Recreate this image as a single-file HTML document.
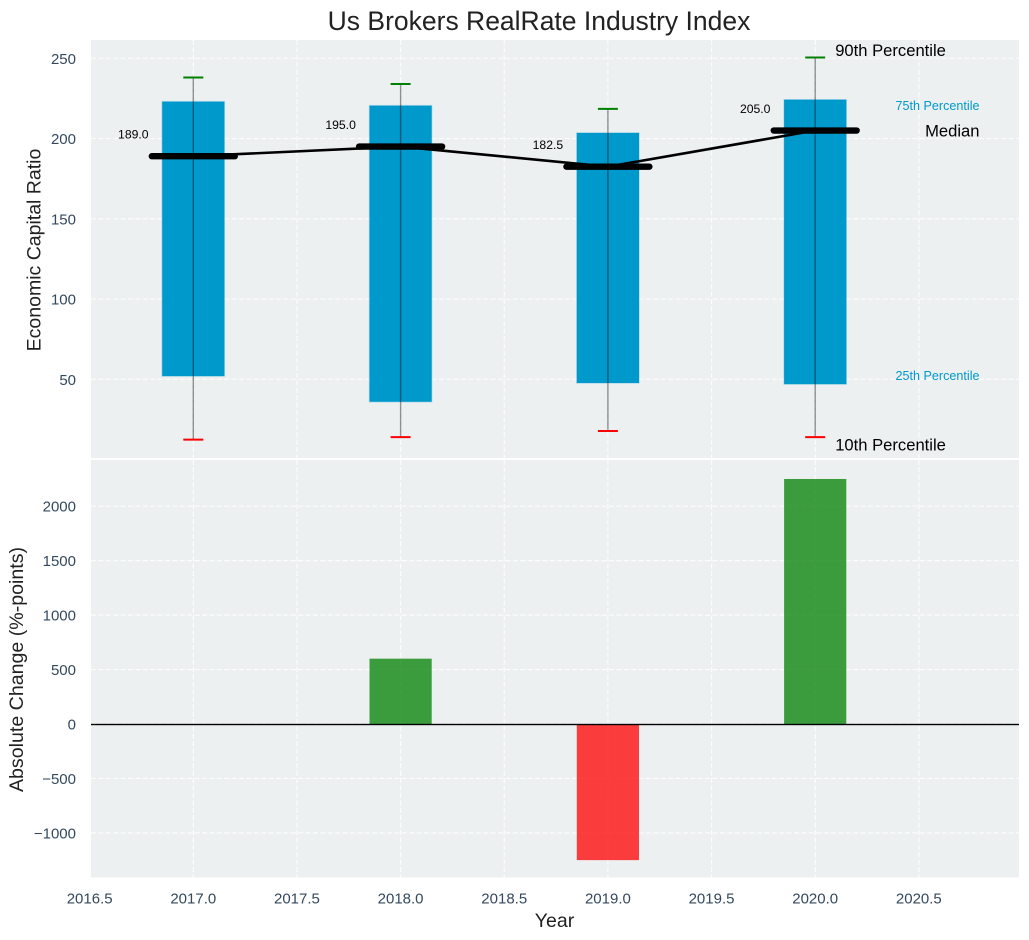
<!DOCTYPE html>
<html>
<head>
<meta charset="utf-8">
<title>Us Brokers RealRate Industry Index</title>
<style>
html,body{margin:0;padding:0;background:#fff;width:1029px;height:940px;overflow:hidden}
svg{display:block;font-family:"Liberation Sans",Arial,sans-serif}
</style>
</head>
<body>
<svg id="chart" width="1029" height="940" viewBox="0 0 1029 940" xmlns="http://www.w3.org/2000/svg"></svg>
<script>
const years = [2017, 2018, 2019, 2020];
const p10 = [12.4, 14, 17.8, 14];
const p25 = [52, 36, 47.7, 47];
const median = [189.0, 195.0, 182.5, 205.0];
const p75 = [223, 220.5, 203.5, 224.2];
const p90 = [238, 234, 218.5, 250.5];
const absoluteChange = [0, 600, -1250, 2250];
const xTicks = [2016.5, 2017.0, 2017.5, 2018.0, 2018.5, 2019.0, 2019.5, 2020.0, 2020.5];
const topYTicks = [50, 100, 150, 200, 250];
const bottomYTicks = [-1000, -500, 0, 500, 1000, 1500, 2000];

const NS = 'http://www.w3.org/2000/svg';
const svg = document.getElementById('chart');
const plotLeft = 91, plotRight = 1019;
const topPanelTop = 40, topPanelBottom = 458;
const bottomPanelTop = 460, bottomPanelBottom = 877.5;

function xScale(v) { return 193.3 + (v - 2017) * 207.3; }
function yTop(v) { return 379.3 - (v - 50) * 1.605; }
function yBottom(v) { return 724 - v * 0.1089; }

function add(tag, attrs, name, text) {
  const el = document.createElementNS(NS, tag);
  for (const k in attrs) el.setAttribute(k, attrs[k]);
  
  
  if (text !== undefined) el.textContent = text;
  svg.appendChild(el);
  return el;
}
function fmtTick(v) { return String(v).replace('-', '\u2212'); }

add('rect', {x: plotLeft, y: topPanelTop, width: plotRight - plotLeft, height: topPanelBottom - topPanelTop, fill: '#ecf0f1'}, 'top-panel-background');
add('rect', {x: plotLeft, y: bottomPanelTop, width: plotRight - plotLeft, height: bottomPanelBottom - bottomPanelTop, fill: '#ecf0f1'}, 'bottom-panel-background');

const gridStyle = {stroke: '#ffffff', 'stroke-width': 1.2, 'stroke-dasharray': '5 2.4', opacity: 0.85};
xTicks.forEach(function (t) {
  const x = xScale(t);
  if (x >= plotLeft) {
    add('line', Object.assign({x1: x, x2: x, y1: topPanelTop, y2: topPanelBottom}, gridStyle), 'top-x-gridline');
    add('line', Object.assign({x1: x, x2: x, y1: bottomPanelTop, y2: bottomPanelBottom}, gridStyle), 'bottom-x-gridline');
  }
  add('text', {x: x, y: 903.5, 'text-anchor': 'middle', 'font-size': 15, fill: '#34495e'}, 'x-tick-label', t.toFixed(1));
});
topYTicks.forEach(function (t) {
  const y = yTop(t);
  add('line', Object.assign({x1: plotLeft, x2: plotRight, y1: y, y2: y}, gridStyle), 'top-y-gridline');
  add('text', {x: 76, y: y + 5.5, 'text-anchor': 'end', 'font-size': 15, fill: '#34495e'}, 'top-y-tick-label', fmtTick(t));
});
bottomYTicks.forEach(function (t) {
  const y = yBottom(t);
  add('line', Object.assign({x1: plotLeft, x2: plotRight, y1: y, y2: y}, gridStyle), 'bottom-y-gridline');
  add('text', {x: 76, y: y + 5.5, 'text-anchor': 'end', 'font-size': 15, fill: '#34495e'}, 'bottom-y-tick-label', fmtTick(t));
});

const barHalf = 0.15;
years.forEach(function (yr, i) {
  const xl = xScale(yr - barHalf), xr = xScale(yr + barHalf);
  add('rect', {x: xl, y: yTop(p75[i]), width: xr - xl, height: yTop(p25[i]) - yTop(p75[i]), fill: '#0099cc', stroke: '#0099cc', 'stroke-opacity': 0.25, 'stroke-width': 1.4}, 'iqr-bar-' + yr);
});

add('polyline', {points: years.map(function (yr, i) { return xScale(yr) + ',' + yTop(median[i]); }).join(' '), fill: 'none', stroke: '#000000', 'stroke-width': 2.6}, 'median-line');

years.forEach(function (yr, i) {
  const x = xScale(yr);
  add('line', {x1: x, x2: x, y1: yTop(p10[i]), y2: yTop(p90[i]), stroke: '#000000', 'stroke-opacity': 0.42, 'stroke-width': 1.4}, 'whisker-' + yr);
  add('line', {x1: x - 10, x2: x + 10, y1: yTop(p90[i]), y2: yTop(p90[i]), stroke: '#008000', 'stroke-width': 2}, 'p90-cap-' + yr);
  add('line', {x1: x - 10, x2: x + 10, y1: yTop(p10[i]), y2: yTop(p10[i]), stroke: '#ff0000', 'stroke-width': 2}, 'p10-cap-' + yr);
  add('line', {x1: xScale(yr - 0.2), x2: xScale(yr + 0.2), y1: yTop(median[i]), y2: yTop(median[i]), stroke: '#000000', 'stroke-width': 6.4, 'stroke-linecap': 'round'}, 'median-marker-' + yr);
  add('text', {x: x - 60, y: yTop(median[i]) - 17.5, 'text-anchor': 'middle', 'font-size': 12.2, fill: '#000000'}, 'median-value-' + yr, median[i].toFixed(1));
});

absoluteChange.forEach(function (v, i) {
  if (v === 0) return;
  const xl = xScale(years[i] - barHalf), xr = xScale(years[i] + barHalf);
  const y0 = yBottom(Math.max(v, 0)), y1 = yBottom(Math.min(v, 0));
  add('rect', {x: xl, y: y0, width: xr - xl, height: y1 - y0, fill: v > 0 ? '#008000' : '#ff0000', 'fill-opacity': 0.75}, 'change-bar-' + years[i]);
});
add('rect', {x: plotLeft, y: yBottom(0) - 0.2, width: plotRight - plotLeft, height: 1.4, fill: '#000000'}, 'zero-line');

const lastX = xScale(years[3]);
add('text', {x: lastX + 20, y: yTop(p90[3]) - 1.5, 'font-size': 16.6, fill: '#000000'}, 'p90-label', '90th Percentile');
add('text', {x: lastX + 20, y: yTop(p10[3]) + 13.5, 'font-size': 16.6, fill: '#000000'}, 'p10-label', '10th Percentile');
add('text', {x: 979.5, y: 136.5, 'text-anchor': 'end', 'font-size': 16.6, fill: '#000000'}, 'median-label', 'Median');
add('text', {x: 979.5, y: 110, 'text-anchor': 'end', 'font-size': 12.6, fill: '#0099cc'}, 'p75-label', '75th Percentile');
add('text', {x: 979.5, y: 380, 'text-anchor': 'end', 'font-size': 12.6, fill: '#0099cc'}, 'p25-label', '25th Percentile');

add('text', {x: 539, y: 30, 'text-anchor': 'middle', 'font-size': 26.5, fill: '#222222'}, 'chart-title', 'Us Brokers RealRate Industry Index');
add('text', {x: 554.5, y: 927, 'text-anchor': 'middle', 'font-size': 19.5, fill: '#222222'}, 'x-axis-title', 'Year');
add('text', {transform: 'translate(40.5 250) rotate(-90)', 'text-anchor': 'middle', 'font-size': 19.5, fill: '#222222'}, 'top-y-axis-title', 'Economic Capital Ratio');
add('text', {transform: 'translate(23 669.5) rotate(-90)', 'text-anchor': 'middle', 'font-size': 19.6, fill: '#222222'}, 'bottom-y-axis-title', 'Absolute Change (%-points)');
</script>
</body>
</html>
